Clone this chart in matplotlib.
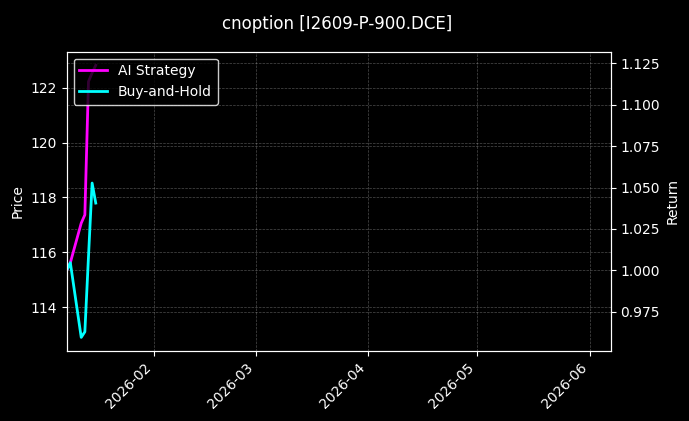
import numpy as np
import pandas as pd
import matplotlib
matplotlib.use('Agg')
import matplotlib.pyplot as plt
import matplotlib.dates as mdates

plt.style.use('dark_background')

# values
dates = pd.to_datetime(['2026-01-08', '2026-01-09', '2026-01-12', '2026-01-13',
                        '2026-01-14', '2026-01-15', '2026-01-16'])
ai_ret = [1.000, 1.0046, 1.0285, 1.0335, 1.1140, 1.1192, 1.1238]
bh_ret = [1.000, 1.0046, 0.9595, 0.9629, 1.0083, 1.0527, 1.0406]
price_lim = (112.41, 123.31)
x_lim = (pd.Timestamp('2026-01-08'), pd.Timestamp('2026-06-06 19:00'))
title = 'cnoption [I2609-P-900.DCE]'

fig = plt.figure(figsize=(6.89, 4.21), dpi=100)
ax = fig.add_axes([0.0968, 0.1663, 0.7896, 0.7109])
ax2 = ax.twinx()

ax.set_ylim(*price_lim)
ax.set_ylabel('Price')
ax.grid(True, linestyle='--', linewidth=0.5, alpha=0.3)

ax2.plot(dates, ai_ret, color='#ff00ff', linewidth=2, label='AI Strategy')
ax2.plot(dates, bh_ret, color='#00ffff', linewidth=2, label='Buy-and-Hold')
ax2.set_ylabel('Return')
ax2.grid(True, axis='y', linestyle='--', linewidth=0.5, alpha=0.3)
ax2.set_ylim(0.9513, 1.132)

ax.set_xlim(*x_lim)
ax.xaxis.set_major_locator(mdates.MonthLocator())
ax.xaxis.set_major_formatter(mdates.DateFormatter('%Y-%m'))
plt.setp(ax.get_xticklabels(), rotation=45, ha='right')

ax2.legend(loc='upper left', facecolor='black', edgecolor='white')
fig.suptitle(title, fontsize=12, x=0.49, y=0.965)

fig.savefig('out.png', dpi=100, facecolor='black')
